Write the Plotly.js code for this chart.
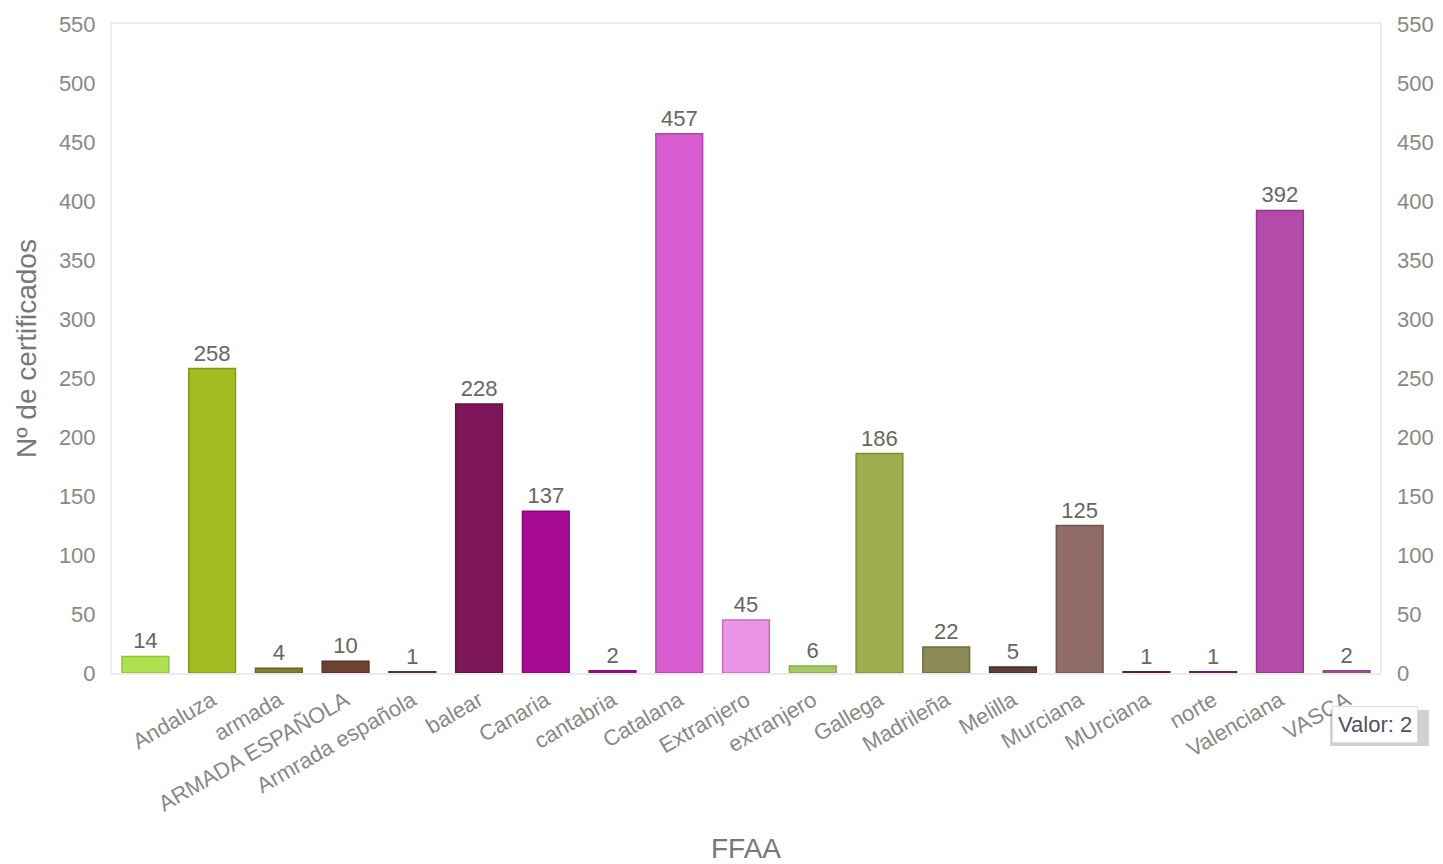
<!DOCTYPE html>
<html>
<head>
<meta charset="utf-8">
<script src="https://cdn.plot.ly/plotly-3.0.1.min.js"></script>
<style>html,body{margin:0;padding:0;background:#fff;}#chart{width:1443px;height:864px;}</style>
</head>
<body>
<div id="chart"></div>
<script>
var categories = [" ", "Andaluza", "armada", "ARMADA ESPAÑOLA", "Armrada española", "balear", "Canaria", "cantabria", "Catalana", "Extranjero", "extranjero", "Gallega", "Madrileña", "Melilla", "Murciana", "MUrciana", "norte", "Valenciana", "VASCA"];
var values = [14, 258, 4, 10, 1, 228, 137, 2, 457, 45, 6, 186, 22, 5, 125, 1, 1, 392, 2];
var barColors = ["#aee24e", "#a3bd22", "#7f7f2d", "#6e4231", "#6e3c40", "#7d1559", "#a70a95", "#a0109a", "#d65ccf", "#ea95e8", "#a6cb65", "#a0ad4f", "#8c8c56", "#5f4036", "#8f6b6a", "#6d2b5e", "#7d2878", "#b44bab", "#a85aa0"];
var borderColors = ["#8cc43a", "#7f9c1a", "#666620", "#5a3022", "#5c2e33", "#651046", "#8a0a7a", "#850a80", "#b044a8", "#c070bb", "#88aa50", "#7f8c38", "#6e6e40", "#4a2f27", "#735452", "#561f4a", "#641f60", "#93358b", "#8c4584"];
var yTicks = [0, 50, 100, 150, 200, 250, 300, 350, 400, 450, 500, 550];
var tooltipText = "Valor: 2";

var font = "Liberation Sans, Arial, sans-serif";
var gray = "#777";

var trace = {
  type: "bar",
  x: categories,
  y: values,
  text: values.map(String),
  textposition: "outside",
  textfont: {family: font, size: 22, color: "#666"},
  cliponaxis: false,
  marker: {color: barColors, line: {color: borderColors, width: 1.5}},
  hoverinfo: "none"
};

var layout = {
  width: 1443, height: 864,
  margin: {l: 112, r: 63, t: 24, b: 191},
  paper_bgcolor: "#fff", plot_bgcolor: "#fff",
  showlegend: false,
  bargap: 0.3,
  font: {family: font, color: gray},
  xaxis: {
    type: "category",
    tickangle: -30,
    tickfont: {family: font, size: 22, color: "#888"},
    showline: true, linecolor: "#ececec", linewidth: 2, mirror: true,
    showgrid: false, zeroline: false, ticks: "outside", ticklen: 4, tickcolor: "rgba(0,0,0,0)",
    title: {text: "FFAA", font: {family: font, size: 28, color: gray}, standoff: 40},
    automargin: false
  },
  yaxis: {
    range: [0, 550], tickvals: yTicks, ticktext: yTicks.map(String),
    tickfont: {family: font, size: 22, color: "#888"},
    showgrid: false, zeroline: false, showline: true, linecolor: "#ececec", linewidth: 2, mirror: true, ticks: "",
    ticklabelstandoff: 10,
    title: {text: "Nº de certificados", font: {family: font, size: 28, color: gray}, standoff: 14},
    automargin: false
  },
  yaxis2: {
    overlaying: "y", side: "right", range: [0, 550], tickvals: yTicks, ticktext: yTicks.map(String),
    tickfont: {family: font, size: 22, color: "#888"},
    showgrid: false, zeroline: false, showline: false, ticks: "",
    ticklabelstandoff: 16, automargin: false
  },
  shapes: [{
    type: "rect", xref: "paper", yref: "paper",
    x0: 0.9606, x1: 1.0386, y0: -0.1125, y1: -0.057,
    fillcolor: "rgba(0,0,0,0.18)", line: {width: 0}, layer: "above"
  }],
  annotations: [{
    xref: "paper", yref: "paper", x: 0.9961, y: -0.0786,
    xanchor: "center", yanchor: "middle", showarrow: false,
    text: tooltipText, font: {family: font, size: 22, color: "#4f4f66"},
    bgcolor: "#ffffff", bordercolor: "#dddddd", borderwidth: 1, borderpad: 5
  }]
};

Plotly.newPlot("chart", [trace, {type: "bar", x: [categories[0]], y: [null], yaxis: "y2", hoverinfo: "none", showlegend: false}], layout, {displayModeBar: false, staticPlot: true});
</script>
</body>
</html>
